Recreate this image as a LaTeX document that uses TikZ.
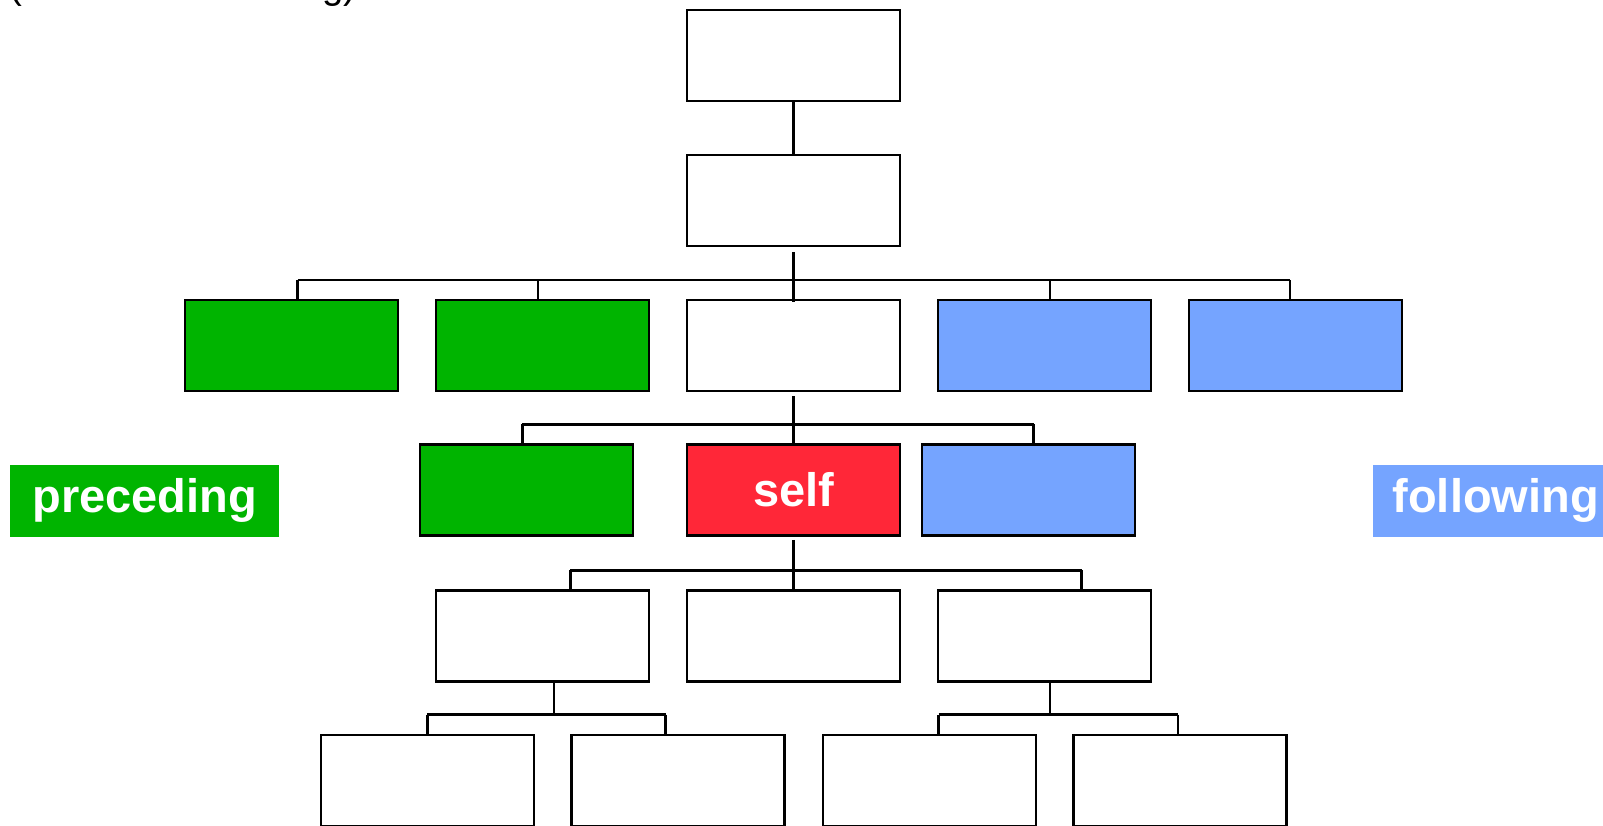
\documentclass[tikz,border=0pt]{standalone}
\usepackage{fontspec}
\setmainfont{Liberation Sans}
\definecolor{pgreen}{RGB}{0,180,0}
\definecolor{fblue}{RGB}{117,164,255}
\definecolor{sred}{RGB}{255,39,56}
\begin{document}
\begin{tikzpicture}[x=1pt,y=-1pt,
  box/.style={draw=black, line width=2.8pt, minimum width=213pt, minimum height=91pt, inner sep=0pt, fill=white},
  conn/.style={draw=black, line width=2.4pt},
  tag/.style={font=\fontsize{47}{56}\selectfont\bfseries, text=white, inner sep=0pt}
]
\useasboundingbox (0,0) rectangle (1603,825);
\clip (0,0) rectangle (1603,825);

% top (cut off) note
\node[font=\fontsize{38.5}{46}\selectfont, anchor=base west, inner sep=0pt] (note) at (9.5,-1.5) {(document ordering)};

% boxes
\node[box] (r1) at (793.5,55.5) {};
\node[box] (r2) at (793.5,200.5) {};
\node[box,fill=pgreen] (r3a) at (291.5,345.5) {};
\node[box,fill=pgreen] (r3b) at (542.5,345.5) {};
\node[box] (r3c) at (793.5,345.5) {};
\node[box,fill=fblue] (r3d) at (1044.5,345.5) {};
\node[box,fill=fblue] (r3e) at (1295.5,345.5) {};
\node[box,fill=pgreen] (r4a) at (526.5,490) {};
\node[box,fill=sred,tag] (self) at (793.5,490) {self};
\node[box,fill=fblue] (r4c) at (1028.5,490) {};
\node[box] (r5a) at (542.5,636) {};
\node[box] (r5b) at (793.5,636) {};
\node[box] (r5c) at (1044.5,636) {};
\node[box] (r6a) at (427.5,780.5) {};
\node[box] (r6b) at (678,780.5) {};
\node[box] (r6c) at (929.5,780.5) {};
\node[box] (r6d) at (1180,780.5) {};

% axis labels
\node[tag, fill=pgreen, minimum width=269pt, minimum height=72pt] (prec) at (144.6,500.8) {preceding};
\node[tag, fill=fblue, anchor=west, minimum height=72pt, inner xsep=19.7pt] (foll) at (1372.7,500.8) {following};

% bus coordinates
\coordinate (b3a) at (297.5,280);
\coordinate (b3b) at (537.7,280);
\coordinate (b3d) at (1050,280);
\coordinate (b3e) at (1290,280);
\coordinate (b4a) at (522.4,424.3);
\coordinate (b4c) at (1033.5,424.3);
\coordinate (b5a) at (570.4,570.4);
\coordinate (b5c) at (1081.6,570.4);
\coordinate (d5a) at (554.1,714.6);
\coordinate (b6a) at (427.4,714.6);
\coordinate (b6b) at (665.5,714.6);
\coordinate (d5c) at (1049.9,714.6);
\coordinate (b6c) at (938.5,714.6);
\coordinate (b6d) at (1177.7,714.6);

% connectors
\draw[conn] (r1.south) -- (r2.north);

\draw[conn] ([yshift=-5pt]r2.south) -- ([yshift=-3pt]r3c.north);
\draw[conn] (b3a) -- (b3e);
\draw[conn] (b3a) -- (b3a |- r3a.north);
\draw[conn] (b3b) -- (b3b |- r3b.north);
\draw[conn] (b3d) -- (b3d |- r3d.north);
\draw[conn] (b3e) -- (b3e |- r3e.north);

\draw[conn] ([yshift=-4pt]r3c.south) -- ([yshift=-3pt]self.north);
\draw[conn] (b4a) -- (b4c);
\draw[conn] (b4a) -- (b4a |- r4a.north);
\draw[conn] (b4c) -- (b4c |- r4c.north);

\draw[conn] ([yshift=-3pt]self.south) -- ([yshift=-2pt]r5b.north);
\draw[conn] (b5a) -- (b5c);
\draw[conn] (b5a) -- (b5a |- r5a.north);
\draw[conn] (b5c) -- (b5c |- r5c.north);

\draw[conn] (r5a.south -| d5a) -- (d5a);
\draw[conn] (b6a) -- (b6b);
\draw[conn] (b6a) -- (b6a |- r6a.north);
\draw[conn] (b6b) -- (b6b |- r6b.north);

\draw[conn] (r5c.south -| d5c) -- (d5c);
\draw[conn] (b6c) -- (b6d);
\draw[conn] (b6c) -- (b6c |- r6c.north);
\draw[conn] (b6d) -- (b6d |- r6d.north);
\end{tikzpicture}
\end{document}
